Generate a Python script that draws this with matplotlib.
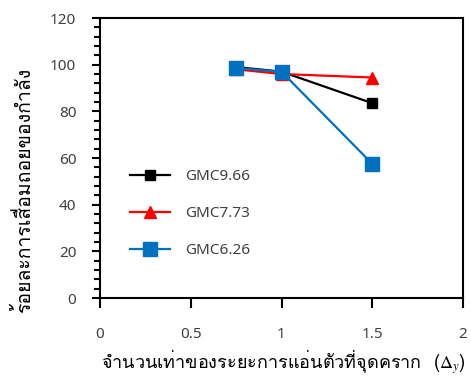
import matplotlib
matplotlib.use("Agg")
import matplotlib.pyplot as plt
from matplotlib.ticker import MultipleLocator

# Ductility multiple (x Δy) and strength degradation (%) for each mix
ductility = [0.75, 1.0, 1.5]
gmc966 = [99.0, 97.0, 83.5]
gmc773 = [98.0, 96.0, 94.5]
gmc626 = [98.5, 97.0, 57.5]
series_labels = ["GMC9.66", "GMC7.73", "GMC6.26"]

x_ticks = [0, 0.5, 1, 1.5, 2]
x_tick_labels = ["0", "0.5", "1", "1.5", "2"]
y_ticks = [0, 20, 40, 60, 80, 100, 120]

x_title = r"จำนวนเท่าของระยะการแอ่นตัวที่จุดคราก  ($\Delta_y$)"
y_title = "ร้อยละการเสื่อมถอยของกำลัง"

plt.rcParams["font.family"] = ["Loma", "DejaVu Sans"]
plt.rcParams["mathtext.fontset"] = "stix"
num_font = ["Noto Sans", "DejaVu Sans"]

fig = plt.figure(figsize=(4.71, 3.78), dpi=100)
ax = fig.add_axes([100 / 471, 1 - 298 / 378, 363 / 471, 280 / 378])

ax.plot(ductility, gmc966, color="black", lw=1.6, marker="s", ms=7.5,
        label=series_labels[0], zorder=3)
ax.plot(ductility, gmc773, color="#FF0000", lw=1.6, marker="^", ms=9,
        label=series_labels[1], zorder=3)
ax.plot(ductility, gmc626, color="#0070C0", lw=1.6, marker="s", ms=10.5,
        label=series_labels[2], zorder=4)

ax.set_xlim(0, 2)
ax.set_ylim(0, 120)
ax.set_xticks(x_ticks)
ax.set_xticklabels(x_tick_labels)
ax.set_yticks(y_ticks)
ax.yaxis.set_minor_locator(MultipleLocator(4))

for s in ax.spines.values():
    s.set_linewidth(1.5)
    s.set_color("black")

ax.tick_params(axis="y", which="major", direction="out", length=6, width=1.5,
               pad=11, labelsize=11, labelcolor="#404040")
ax.tick_params(axis="y", which="minor", direction="out", length=4.5, width=1.5)
ax.tick_params(axis="x", which="major", direction="out", length=7, width=1.5,
               pad=14, labelsize=11, labelcolor="#404040")
for lab in ax.get_xticklabels() + ax.get_yticklabels():
    lab.set_fontfamily(num_font)

fig.text(283 / 471, 1 - 362 / 378, x_title, ha="center", va="center",
         fontsize=13, color="black")
fig.text(23 / 471, 1 - 190 / 378, y_title, ha="center", va="center",
         rotation=90, fontsize=14, color="black")

leg = ax.legend(loc="upper left", bbox_to_anchor=(130 / 471, 1 - 169 / 378),
                bbox_transform=fig.transFigure, frameon=False,
                prop={"family": num_font, "size": 11},
                handlelength=2.6, handletextpad=1.0, labelspacing=1.45,
                borderpad=0, borderaxespad=0)
for t in leg.get_texts():
    t.set_color("#404040")

fig.savefig("out.png", dpi=100)
